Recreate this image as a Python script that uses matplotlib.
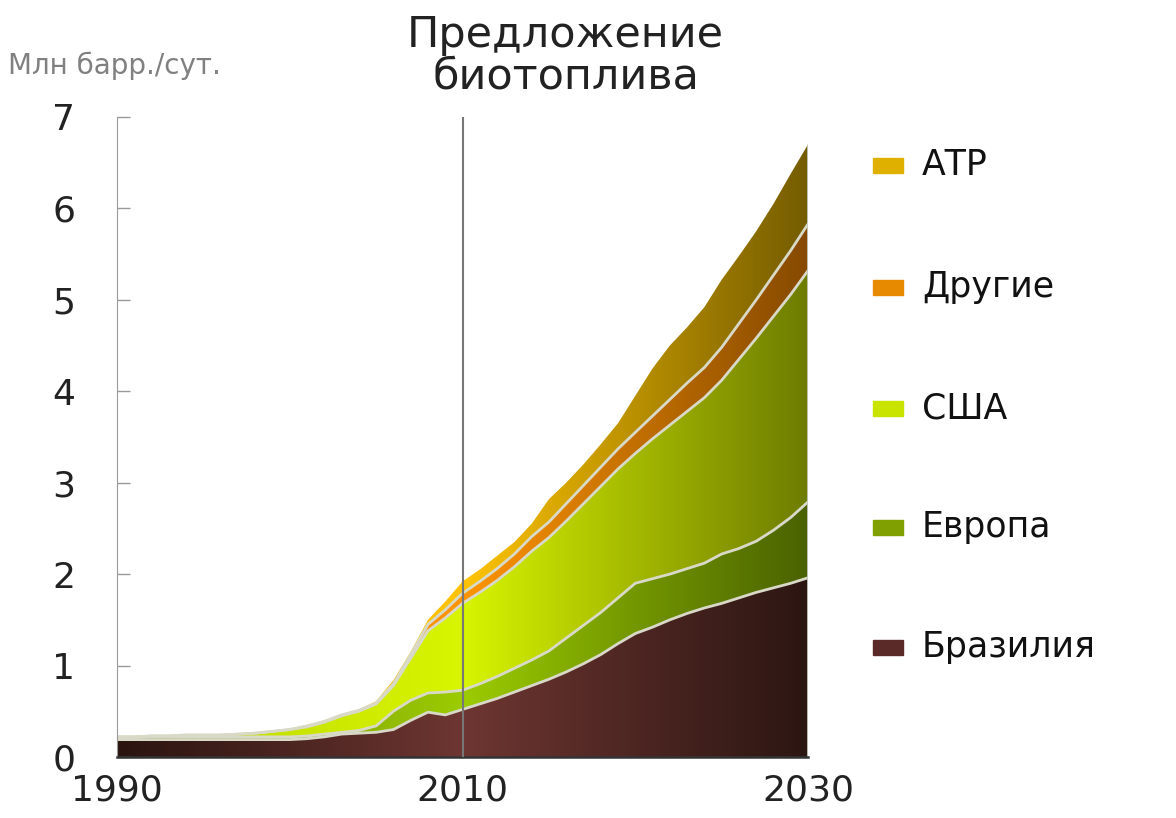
import numpy as np
import matplotlib
matplotlib.use('Agg')
import matplotlib.pyplot as plt
from matplotlib.colors import LinearSegmentedColormap
from matplotlib.patches import Rectangle

# supply of biofuels, mb/d, by region (each series is its own layer)
years = np.arange(1990, 2031)
brazil = [0.19, 0.19, 0.19, 0.19, 0.19, 0.19, 0.19, 0.19, 0.19, 0.19,
          0.19, 0.20, 0.22, 0.25, 0.26, 0.27, 0.30, 0.40, 0.49, 0.46,
          0.52, 0.58, 0.64, 0.71, 0.78, 0.85, 0.93, 1.02, 1.12, 1.24,
          1.35, 1.42, 1.50, 1.57, 1.63, 1.68, 1.74, 1.80, 1.85, 1.90, 1.96]
europe = [0.02, 0.02, 0.03, 0.03, 0.03, 0.03, 0.03, 0.03, 0.03, 0.03,
          0.03, 0.03, 0.03, 0.02, 0.03, 0.07, 0.20, 0.22, 0.21, 0.25,
          0.21, 0.22, 0.24, 0.26, 0.28, 0.31, 0.37, 0.42, 0.46, 0.50,
          0.55, 0.53, 0.50, 0.49, 0.49, 0.54, 0.54, 0.56, 0.63, 0.72, 0.83]
usa = [0.01, 0.01, 0.01, 0.01, 0.02, 0.02, 0.02, 0.03, 0.04, 0.06,
       0.08, 0.10, 0.13, 0.18, 0.21, 0.24, 0.28, 0.46, 0.68, 0.81,
       0.95, 1.00, 1.05, 1.11, 1.19, 1.24, 1.28, 1.33, 1.38, 1.41,
       1.42, 1.53, 1.63, 1.72, 1.81, 1.90, 2.07, 2.22, 2.34, 2.44, 2.53]
others = [0.00, 0.00, 0.00, 0.00, 0.00, 0.00, 0.00, 0.00, 0.00, 0.00,
          0.00, 0.01, 0.01, 0.01, 0.01, 0.01, 0.02, 0.04, 0.07, 0.09,
          0.11, 0.12, 0.13, 0.14, 0.16, 0.17, 0.19, 0.20, 0.21, 0.22,
          0.23, 0.25, 0.28, 0.31, 0.33, 0.36, 0.39, 0.42, 0.45, 0.48, 0.51]
atp = [0.01, 0.01, 0.01, 0.01, 0.01, 0.01, 0.01, 0.01, 0.01, 0.01,
       0.01, 0.01, 0.01, 0.01, 0.01, 0.02, 0.04, 0.03, 0.05, 0.09,
       0.13, 0.13, 0.14, 0.13, 0.14, 0.25, 0.23, 0.23, 0.25, 0.28,
       0.40, 0.52, 0.59, 0.61, 0.66, 0.74, 0.74, 0.75, 0.78, 0.84, 0.87]

series = [brazil, europe, usa, others, atp]
names = ['Бразилия', 'Европа', 'США', 'Другие', 'АТР']
# gradient stops: 1990 -> 2010 -> 2030
grads = [['#2a1410', '#6e3632', '#2c1612'],
         ['#6b7d1a', '#9ccc00', '#4a6200'],
         ['#b8d400', '#d8f500', '#6e7c00'],
         ['#d08000', '#ff9500', '#864a00'],
         ['#d8a800', '#ffc400', '#745c00']]
legend_cols = ['#5a2a28', '#7fa000', '#c8e400', '#e88a00', '#e0b000']

plt.rcParams['font.family'] = 'DejaVu Sans'

fig = plt.figure(figsize=(11.76, 8.18), dpi=100)
ax = fig.add_axes([0.0995, 0.0746, 0.5876, 0.7824])

polys = ax.stackplot(years, *series, colors=['none'] * 5, linewidth=0)
gimg = np.linspace(0, 1, 256).reshape(1, -1)
for poly, g in zip(polys, grads):
    cmap = LinearSegmentedColormap.from_list('g', g)
    im = ax.imshow(gimg, cmap=cmap, aspect='auto', origin='lower',
                   extent=[years[0], years[-1], 0, 7], zorder=1)
    im.set_clip_path(poly.get_paths()[0], ax.transData)

# light separators on the tops of the lower layers
tops = np.cumsum(np.array(series), axis=0)
for top in tops[:4]:
    ax.plot(years, top, color='#d9d9c8', lw=2, zorder=2)
ax.vlines(years[-1], 0, tops[-1][-1], color='#c8c8c0', lw=2, zorder=2)

ax.axvline(2010, color='#777777', lw=1.5, zorder=3)

ax.set_xlim(1990, 2030)
ax.set_ylim(0, 7)
ax.set_xticks([1990, 2010, 2030])
ax.set_yticks(range(8))
ax.tick_params(axis='x', length=0, pad=12, labelsize=26, labelcolor='#222222')
ax.tick_params(axis='y', direction='in', length=9, width=1, color='#999999',
               pad=30, labelsize=26, labelcolor='#222222')
for s in ['top', 'right']:
    ax.spines[s].set_visible(False)
ax.spines['left'].set_color('#999999')
ax.spines['bottom'].set_color('#333333')
ax.spines['bottom'].set_linewidth(1.8)

fig.text(0.481, 0.932, 'Предложение\nбиотоплива', ha='center', va='center',
         fontsize=31, color='#222222', linespacing=1.0)
fig.text(0.007, 0.920, 'Млн барр./сут.', ha='left', va='center',
         fontsize=20, color='#808080')

# legend on the right, top entry first
ys = [647, 527, 408, 287, 165]
for name, col, y in zip(names, legend_cols, ys):
    fy = 1 - y / 818
    fig.add_artist(Rectangle((873 / 1176, fy - 8 / 818), 30 / 1176, 15 / 818,
                             transform=fig.transFigure, color=col))
    fig.text(922 / 1176, fy, name, ha='left', va='center', fontsize=25,
             color='#111111')

fig.savefig('out.png', dpi=100)
